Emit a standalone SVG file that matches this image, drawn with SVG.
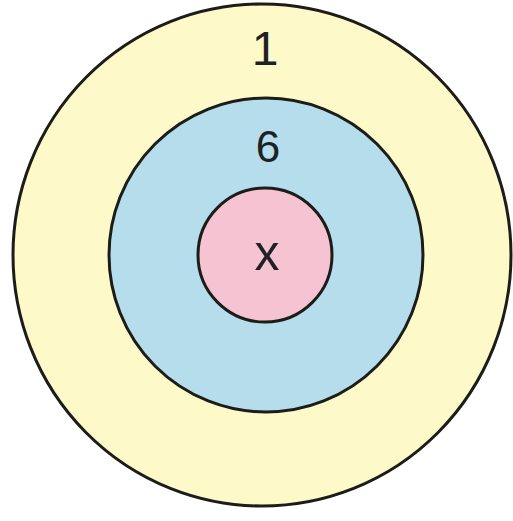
<svg xmlns="http://www.w3.org/2000/svg" width="513" height="521" viewBox="0 0 513 521">
<style>
.ring{stroke:#1c1c18;stroke-width:3}
.lbl{font-family:"Liberation Sans",Arial,sans-serif;fill:#1e2226;text-anchor:middle}
</style>
<rect width="513" height="521" fill="#ffffff"/>
<g id="outer">
<ellipse class="ring" cx="262" cy="255" rx="249" ry="251" fill="#fef9c9"/>
<text class="lbl" x="265" y="65" font-size="48">1</text>
</g>
<g id="middle">
<circle class="ring" cx="266" cy="255" r="157" fill="#b5ddeb"/>
<text class="lbl" x="268" y="162" font-size="44">6</text>
</g>
<g id="inner">
<circle class="ring" cx="265" cy="255" r="67" fill="#f5c3d1"/>
<text class="lbl" x="267" y="270" font-size="50">x</text>
</g>
<g id="connectors"></g>
</svg>
